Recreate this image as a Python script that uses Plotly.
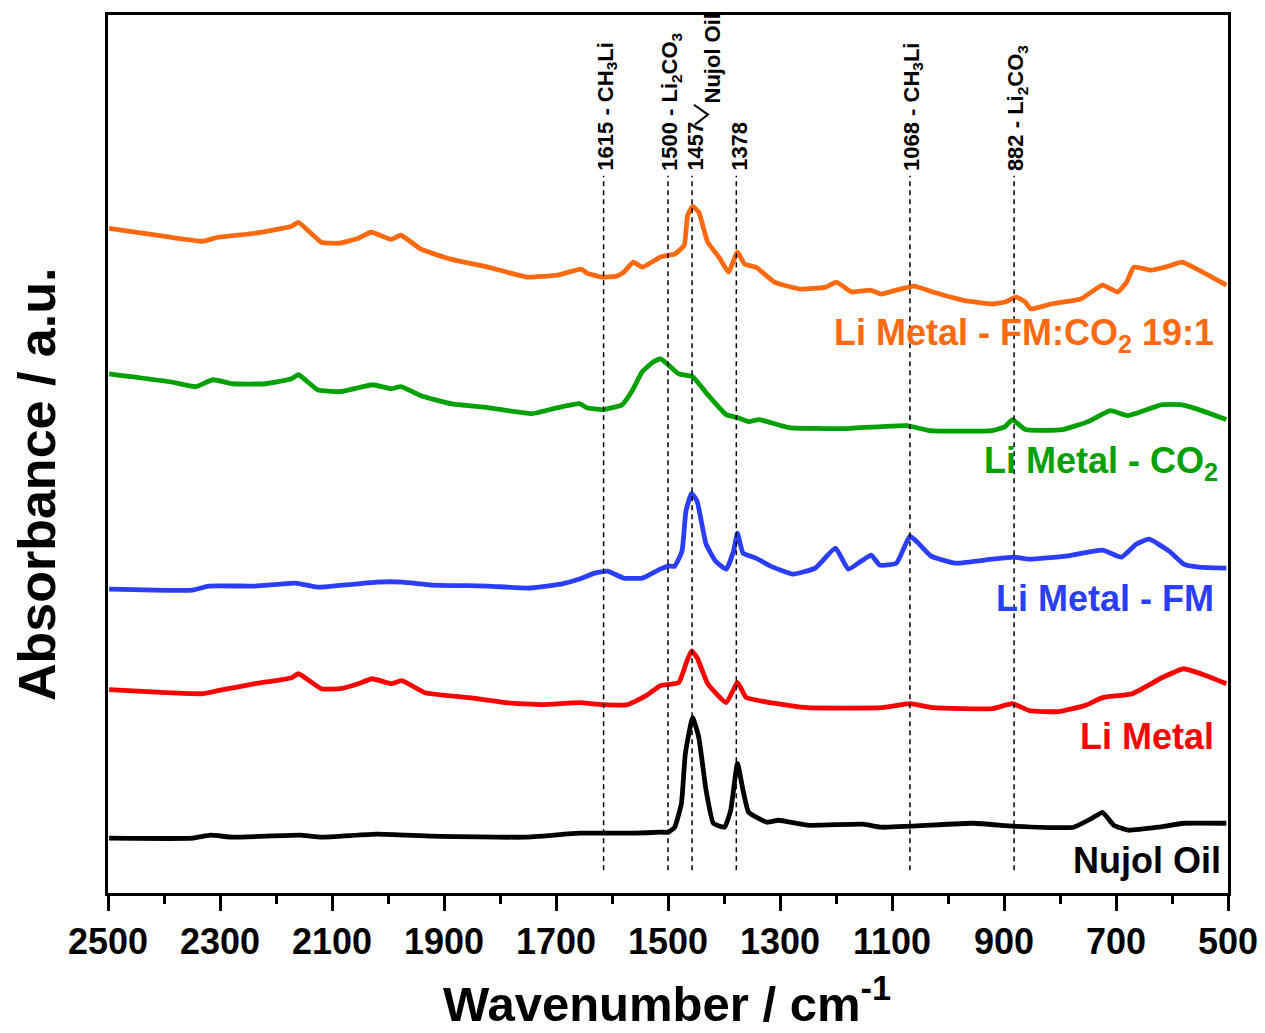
import plotly.graph_objects as go

# ---------------- data (wavenumber in cm^-1, absorbance in offset a.u.) ----------------
wn_fmco2 = [2498, 2389, 2330, 2304, 2237, 2172, 2160, 2119, 2086, 2053, 2030, 1994, 1977, 1941, 1888,
            1822, 1750, 1697, 1655, 1645, 1617, 1592, 1579, 1562, 1546, 1514, 1499, 1488, 1471, 1465,
            1456, 1445, 1429, 1409, 1392, 1376, 1363, 1343, 1310, 1264, 1218, 1199, 1172, 1139, 1119,
            1092, 1060, 1027, 974, 921, 898, 878, 862, 852, 816, 763, 724, 697, 681, 668, 638, 612,
            582, 552, 503]
ab_fmco2 = [667, 658, 654, 658, 662, 669, 673, 653, 652, 657, 663, 656, 660, 646, 636,
            628, 618, 620, 626, 622, 618, 619, 623, 633, 628, 638, 640, 641, 650, 680,
            689, 683, 653, 638, 623, 643, 631, 628, 613, 606, 608, 613, 603, 605, 601,
            605, 609, 603, 595, 591, 593, 598, 593, 586, 591, 596, 610, 603, 613, 628, 625, 628,
            633, 625, 610]

wn_co2 = [2498, 2389, 2343, 2313, 2277, 2218, 2172, 2160, 2126, 2086, 2053, 2027, 1994, 1977, 1941,
          1888, 1822, 1743, 1697, 1658, 1645, 1617, 1582, 1565, 1546, 1526, 1513, 1481, 1456, 1429,
          1396, 1376, 1356, 1337, 1284, 1185, 1119, 1073, 1033, 921, 898, 885, 862, 796, 750, 710,
          678, 618, 585, 552, 503]
ab_co2 = [521, 513, 508, 515, 511, 511, 516, 520, 505, 503, 507, 510, 506, 508, 499,
          491, 487, 481, 487, 491, 487, 485, 490, 503, 523, 533, 536, 521, 518, 500,
          480, 477, 473, 475, 467, 466, 468, 469, 464, 464, 468, 475, 465, 465, 473, 484,
          479, 490, 490, 485, 475]

wn_fm = [2498, 2349, 2320, 2237, 2165, 2126, 2060, 2020, 1974, 1921, 1822, 1750, 1691, 1658, 1631,
         1608, 1579, 1546, 1514, 1499, 1488, 1475, 1468, 1458, 1448, 1432, 1415, 1396, 1383, 1376,
         1366, 1343, 1317, 1277, 1237, 1201, 1178, 1155, 1137, 1122, 1092, 1068, 1053, 1030, 987,
         921, 882, 855, 789, 724, 690, 664, 641, 605, 579, 552, 503]
ab_fm = [305, 304, 308, 308, 311, 307, 310, 312, 312, 309, 308, 306, 310, 315, 321,
         323, 316, 316, 325, 328, 328, 343, 383, 401, 393, 350, 333, 325, 343, 361,
         341, 336, 328, 320, 326, 346, 325, 333, 339, 329, 331, 358, 351, 338, 331,
         335, 337, 335, 338, 344, 337, 350, 355, 343, 330, 327, 326]

wn_li = [2498, 2396, 2330, 2304, 2237, 2172, 2160, 2119, 2086, 2053, 2028, 1994, 1975, 1934, 1855,
         1789, 1724, 1658, 1617, 1572, 1539, 1514, 1481, 1468, 1458, 1448, 1429, 1396, 1376, 1360,
         1317, 1251, 1119, 1068, 1027, 921, 885, 855, 803, 756, 724, 671, 618, 579, 539, 503]
ab_li = [204, 201, 200, 203, 210, 216, 220, 205, 205, 210, 215, 210, 213, 201, 196,
         191, 189, 191, 189, 189, 198, 208, 211, 230, 243, 236, 210, 191, 211, 196,
         191, 186, 186, 190, 186, 185, 190, 183, 182, 188, 196, 200, 216, 225, 218, 210]

wn_nujol = [2498, 2349, 2317, 2277, 2158, 2119, 2020, 1921, 1756, 1658, 1559, 1514, 1499, 1488, 1476,
            1469, 1456, 1445, 1432, 1419, 1399, 1388, 1376, 1366, 1356, 1323, 1303, 1251, 1152, 1119,
            954, 882, 776, 743, 724, 704, 678, 625, 579, 503]
ab_nujol = [55, 55, 58, 56, 58, 56, 59, 57, 56, 60, 60, 61, 61, 66, 90,
            140, 176, 156, 103, 70, 66, 83, 130, 103, 81, 71, 73, 68, 69, 66,
            70, 67, 66, 75, 81, 68, 63, 66, 70, 70]

series_names = ["Li Metal - FM:CO<sub>2</sub> 19:1", "Li Metal - CO<sub>2</sub>", "Li Metal - FM",
                "Li Metal", "Nujol Oil"]
series_colors = ["#FF6A10", "#00A000", "#2B3DFF", "#FF0000", "#000000"]

peak_wn = [1615, 1500, 1457, 1378, 1068, 882]
peak_labels = ["1615 - CH<sub>3</sub>Li", "1500 - Li<sub>2</sub>CO<sub>3</sub>", "1457", "1378",
               "1068 - CH<sub>3</sub>Li", "882 - Li<sub>2</sub>CO<sub>3</sub>"]

x_ticks = [2500, 2300, 2100, 1900, 1700, 1500, 1300, 1100, 900, 700, 500]

# ---------------- figure ----------------
FONT = "Liberation Sans, Arial, Helvetica, sans-serif"
fig = go.Figure()

xs = [wn_fmco2, wn_co2, wn_fm, wn_li, wn_nujol]
ys = [ab_fmco2, ab_co2, ab_fm, ab_li, ab_nujol]
for x, y, name, col in zip(xs, ys, series_names, series_colors):
    fig.add_trace(go.Scatter(x=x, y=y, mode="lines", name=name,
                             line=dict(color=col, width=4.8, shape="spline", smoothing=0.4),
                             showlegend=False))

# vertical dashed reference lines
for w in peak_wn:
    fig.add_shape(type="line", xref="x", yref="paper", x0=w, x1=w, y0=0.026, y1=0.817,
                  line=dict(color="black", width=1.5, dash="5px,4px"))

# peak labels (rotated)
for w, lab in zip(peak_wn, peak_labels):
    fig.add_annotation(x=w, y=0.82, xref="x", yref="paper", text=lab, textangle=-90,
                       xanchor="center", yanchor="bottom", xshift=3, showarrow=False,
                       font=dict(family=FONT, size=22, color="black", weight="bold"))

fig.add_annotation(x=1420, y=0.8967, xref="x", yref="paper", text="Nujol Oil", textangle=-90,
                   xanchor="center", yanchor="bottom", showarrow=False,
                   font=dict(family=FONT, size=22, color="black", weight="bold"))
fig.add_shape(type="path", xref="x", yref="paper",
              path="M 1453.6 0.8978 L 1428.6 0.8865 L 1451.8 0.8751",
              line=dict(color="black", width=2))

# series labels
label_y = [0.6356, 0.4893, 0.3349, 0.1783, 0.0375]
label_x = [0.9893, 0.9928, 0.9893, 0.9893, 0.9958]
for name, col, lx, ly in zip(series_names, series_colors, label_x, label_y):
    fig.add_annotation(x=lx, y=ly, xref="paper", yref="paper", text=name, xanchor="right",
                       yanchor="middle", showarrow=False,
                       font=dict(family=FONT, size=36, color=col, weight="bold"))

# axis titles
fig.add_annotation(x=0.499, y=-0.122, xref="paper", yref="paper",
                   text="Wavenumber / cm<sup>-1</sup>", xanchor="center", yanchor="middle",
                   showarrow=False, font=dict(family=FONT, size=49, color="black", weight="bold"))
fig.add_annotation(x=-0.064, y=0.465, xref="paper", yref="paper",
                   text="Absorbance / a.u.", textangle=-90, xanchor="center", yanchor="middle",
                   showarrow=False, font=dict(family=FONT, size=52, color="black", weight="bold"))

# page body has an 8px default margin, so the figure is 8px smaller and margins compensate
fig.update_layout(
    width=1257, height=1025, autosize=False,
    margin=dict(l=100, r=37, t=4, b=140),
    paper_bgcolor="white", plot_bgcolor="white",
    font=dict(family=FONT, color="black"),
)
fig.update_xaxes(range=[2500, 500], tickvals=x_ticks, ticktext=[str(v) for v in x_ticks],
                 ticks="outside", ticklen=15, tickwidth=3, tickcolor="black",
                 minor=dict(dtick=100, tick0=500, ticks="outside", ticklen=8, tickwidth=2.5,
                            tickcolor="black", showgrid=False),
                 showline=True, linewidth=3, linecolor="black", mirror=True,
                 showgrid=False, zeroline=False,
                 tickfont=dict(family=FONT, size=36, color="black", weight="bold"))
fig.update_yaxes(range=[0, 881], showticklabels=False, ticks="", showline=True, linewidth=3,
                 linecolor="black", mirror=True, showgrid=False, zeroline=False)

fig.write_html("out.html")
